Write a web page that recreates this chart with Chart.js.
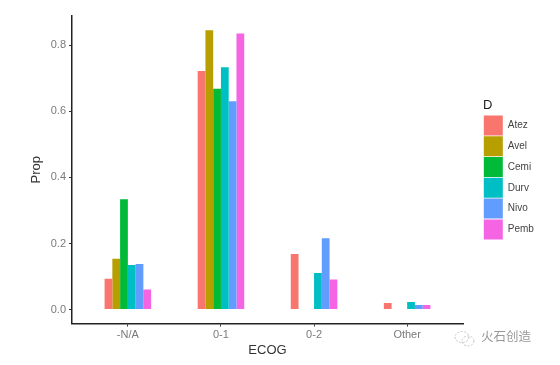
<!DOCTYPE html>
<html>
<head>
<meta charset="utf-8">
<script src="https://cdn.jsdelivr.net/npm/chart.js@4"></script>
<style>
  body { margin: 0; background: #fff; }
  #wrap { position: relative; width: 560px; height: 365px; overflow: hidden; }
  #marca { position: absolute; left: 481px; top: 326px; font: 12.5px "Noto Sans CJK SC"; color: #999; }
  #icone { position: absolute; left: 453px; top: 329px; }
</style>
</head>
<body>
<div id="wrap">
  <canvas id="grafico" width="560" height="365"></canvas>
  <svg id="icone" width="24" height="20" fill="none" stroke="#c4c4c4" stroke-width="1" stroke-dasharray="2 1.5">
    <ellipse cx="9" cy="8" rx="7" ry="5.5"/>
    <ellipse cx="15" cy="12" rx="6" ry="5"/>
  </svg>
  <div id="marca">火石创造</div>
</div>
<script>
const categorias = ["-N/A", "0-1", "0-2", "Other"];
const ticksY = [0, 0.2, 0.4, 0.6, 0.8];

const nomes = ["Atez", "Avel", "Cemi", "Durv", "Nivo", "Pemb"];
const cores = ["#F8766D", "#B79F00", "#00BA38", "#00BFC4", "#619CFF", "#F564E3"];

const atez = [0.093, 0.722, 0.168, 0.020];
const avel = [0.154, 0.845, null, null];
const cemi = [0.334, 0.668, null, null];
const durv = [0.135, 0.733, 0.111, 0.023];
const nivo = [0.138, 0.630, 0.216, 0.014];
const pemb = [0.061, 0.835, 0.091, 0.014];
const series = [atez, avel, cemi, durv, nivo, pemb];

const corTexto = "#7a7a7a";

// Move a legenda para o lugar certo depois do layout
const posicaoLegenda = {
    id: "posicaoLegenda",
    afterLayout(chart) {
        const l = chart.legend;
        const w = l.width;
        l.left = 483;
        l.right = l.left + w;
        l.top = 98;
    }
};

new Chart(document.getElementById("grafico"), {
    type: "bar",
    data: {
        datasets: series.map((valores, s) => ({
            label: nomes[s],
            data: valores.map((v, i) => ({ x: i, y: v })),
            backgroundColor: cores[s],
            borderWidth: 0,
            categoryPercentage: 0.5,
            barPercentage: 1
        }))
    },
    plugins: [posicaoLegenda],
    options: {
        responsive: false,
        animation: false,
        layout: { padding: { top: 16, right: 97, left: 0, bottom: 0 } },
        plugins: {
            tooltip: { enabled: false },
            legend: {
                position: "chartArea",
                align: "start",
                title: {
                    display: true,
                    text: "D",
                    position: "start",
                    color: "#222",
                    font: { family: "Liberation Sans", size: 13 },
                    padding: { top: 1, bottom: 0 }
                },
                labels: {
                    boxWidth: 19,
                    boxHeight: 20,
                    padding: 0.8,
                    color: "#444",
                    font: { family: "Liberation Sans", size: 10 }
                }
            }
        },
        scales: {
            x: {
                type: "linear",
                offset: false,
                min: -0.6,
                max: 3.6,
                afterBuildTicks: axis => { axis.ticks = categorias.map((_, i) => ({ value: i })); },
                afterFit: s => { s.height = 41.5; },
                ticks: {
                    callback: v => categorias[v],
                    color: corTexto,
                    padding: 2,
                    maxRotation: 0,
                    autoSkip: false,
                    font: { family: "Liberation Sans", size: 11 }
                },
                grid: { offset: false, drawOnChartArea: false, drawTicks: true, tickLength: 3, tickColor: "#333" },
                border: { color: "#222", width: 1.5 },
                title: {
                    display: true,
                    text: "ECOG",
                    color: "#333",
                    font: { family: "Liberation Sans", size: 13 },
                    padding: { top: 0, bottom: 7 }
                }
            },
            y: {
                min: -0.042,
                max: 0.888,
                afterBuildTicks: axis => { axis.ticks = ticksY.map(v => ({ value: v })); },
                afterFit: s => { s.width = 72; },
                ticks: {
                    callback: v => v.toFixed(1),
                    color: corTexto,
                    padding: 3,
                    font: { family: "Liberation Sans", size: 11 }
                },
                grid: { drawOnChartArea: false, drawTicks: true, tickLength: 3, tickColor: "#333" },
                border: { color: "#222", width: 1.5 },
                title: {
                    display: true,
                    text: "Prop",
                    color: "#333",
                    font: { family: "Liberation Sans", size: 13 },
                    padding: { top: 29, bottom: 0 }
                }
            }
        }
    }
});
</script>
</body>
</html>
